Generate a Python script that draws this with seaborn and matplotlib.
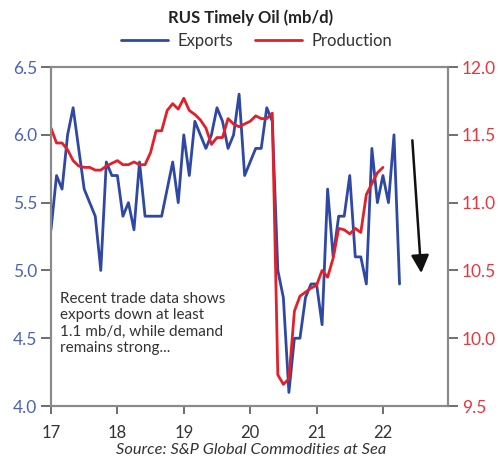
import numpy as np
import pandas as pd
import matplotlib
matplotlib.use("Agg")
import matplotlib.pyplot as plt
import seaborn as sns

# monthly data, Jan 2017 onward
exports = [5.3, 5.7, 5.6, 6.0, 6.2, 5.9, 5.6, 5.5, 5.4, 5.0, 5.8, 5.7,
           5.7, 5.4, 5.5, 5.3, 5.8, 5.4, 5.4, 5.4, 5.4, 5.6, 5.8, 5.5,
           6.0, 5.7, 6.1, 6.0, 5.9, 6.0, 6.2, 6.1, 5.9, 6.0, 6.3, 5.7,
           5.8, 5.9, 5.9, 6.2, 6.1, 5.0, 4.8, 4.1, 4.5, 4.5, 4.8, 4.9,
           4.9, 4.6, 5.6, 5.1, 5.4, 5.4, 5.7, 5.1, 5.1, 4.9, 5.9, 5.5,
           5.7, 5.5, 6.0, 4.9]
production = [11.55, 11.44, 11.44, 11.39, 11.31, 11.27, 11.26, 11.26, 11.24, 11.24, 11.27, 11.29,
              11.31, 11.28, 11.28, 11.30, 11.28, 11.28, 11.37, 11.53, 11.53, 11.68, 11.73, 11.69,
              11.77, 11.68, 11.65, 11.61, 11.55, 11.43, 11.48, 11.48, 11.62, 11.58, 11.56, 11.58,
              11.60, 11.64, 11.62, 11.62, 11.66, 9.73, 9.66, 9.70, 10.20, 10.31, 10.34, 10.37,
              10.39, 10.50, 10.45, 10.59, 10.81, 10.80, 10.77, 10.81, 10.78, 11.06, 11.14, 11.22,
              11.26]
year_ticks = [17, 18, 19, 20, 21, 22]
left_ticks = [4.0, 4.5, 5.0, 5.5, 6.0, 6.5]
right_ticks = [9.5, 10.0, 10.5, 11.0, 11.5, 12.0]

BLUE = "#2f48a3"
RED = "#e3202a"
LBLUE = "#4d62b8"
LRED = "#e8363e"
SPINE = "#8a8a8a"

sns.set_theme(style="white")
plt.rcParams['font.family'] = ['Lato', 'DejaVu Sans']
plt.rcParams['xtick.bottom'] = True
plt.rcParams['ytick.left'] = True

df_exp = pd.DataFrame({"t": 17 + np.arange(len(exports)) / 12.0, "v": exports})
df_prod = pd.DataFrame({"t": 17 + np.arange(len(production)) / 12.0, "v": production})

fig = plt.figure(figsize=(4.98, 4.69), dpi=100)
ax = fig.add_axes([0.1024, 0.1343, 0.7972, 0.7227])
ax2 = ax.twinx()

sns.lineplot(data=df_exp, x="t", y="v", ax=ax, color=BLUE, linewidth=2.0, label="Exports", legend=False)
sns.lineplot(data=df_prod, x="t", y="v", ax=ax2, color=RED, linewidth=2.0, label="Production", legend=False)

ax.set_xlim(17, 22.98)
ax.set_ylim(4.0, 6.5)
ax2.set_ylim(9.5, 12.0)
ax.set_xticks(year_ticks)
ax.set_xticklabels([str(y) for y in year_ticks])
ax.set_yticks(left_ticks)
ax.set_yticklabels([f"{v:.1f}" for v in left_ticks])
ax2.set_yticks(right_ticks)
ax2.set_yticklabels([f"{v:.1f}" for v in right_ticks])
ax.set_xlabel("")
ax.set_ylabel("")
ax2.set_ylabel("")

for a in (ax, ax2):
    for s in a.spines.values():
        s.set_visible(True)
        s.set_color(SPINE)
        s.set_linewidth(1.5)
ax.tick_params(axis="x", which="major", length=6, width=1.2, color="#555555",
               labelsize=12, labelcolor="#333333", pad=8, direction="out", bottom=True)
ax.tick_params(axis="y", which="major", length=7, width=1.2, color="#555555",
               labelsize=12.5, labelcolor=LBLUE, pad=3, direction="out", left=True)
ax2.tick_params(axis="y", which="major", length=7, width=1.2, color="#555555",
                labelsize=12.5, labelcolor=LRED, pad=3, direction="out", right=True)

# annotation text
ax.text(17.14, 4.84, "Recent trade data shows\nexports down at least\n1.1 mb/d, while demand\nremains strong...",
        fontsize=11, color="#333333", va="top", ha="left", linespacing=1.2)

# arrow
ax.annotate("", xy=(22.58, 4.96), xytext=(22.44, 5.98),
            arrowprops=dict(arrowstyle="-|>,head_width=0.45,head_length=0.9",
                            color="#111111", lw=1.8))

fig.text(0.503, 0.963, "RUS Timely Oil (mb/d)", ha="center", va="center",
         fontsize=12, fontweight="bold", color="#222222")
h1, l1 = ax.get_legend_handles_labels()
h2, l2 = ax2.get_legend_handles_labels()
fig.legend(h1 + h2, l1 + l2, loc="center", bbox_to_anchor=(0.516, 0.912), ncol=2,
           frameon=False, fontsize=12, handlelength=2.8, columnspacing=1.3,
           handletextpad=0.6, labelcolor="#333333")
fig.text(0.505, 0.04, "Source: S&P Global Commodities at Sea", ha="center", va="center",
         fontsize=11.8, style="italic", color="#333333")

fig.savefig("out.png", dpi=100)
